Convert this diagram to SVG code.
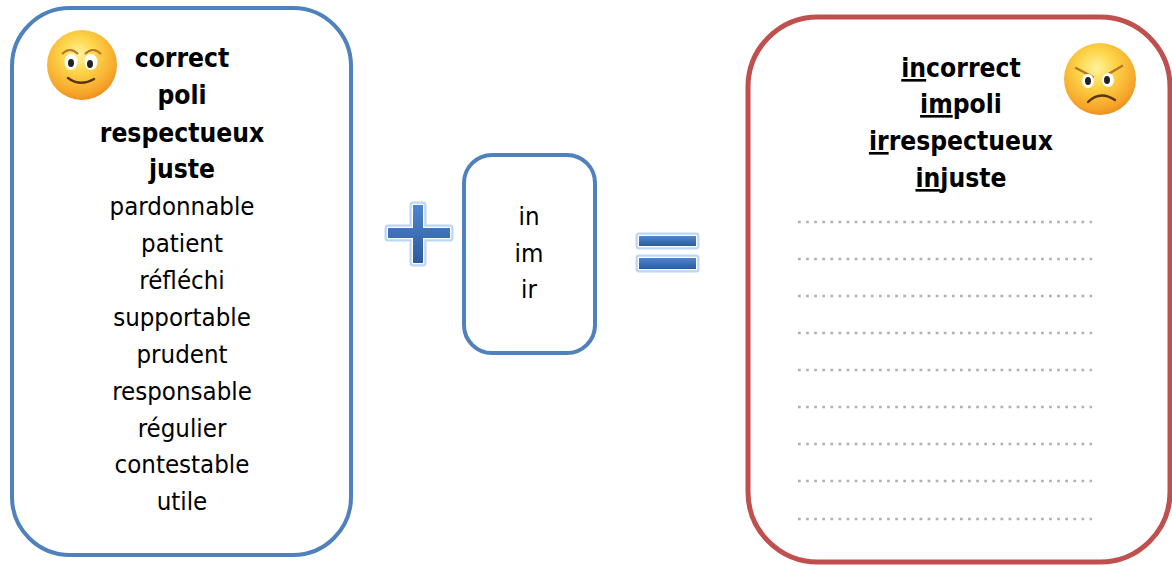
<svg xmlns="http://www.w3.org/2000/svg" width="1172" height="566" viewBox="0 0 1172 566">
<style>
.box{fill:#fff;stroke-width:4}
.blue{stroke:#4f81bd}
.red{stroke:#c0504d;stroke-width:5}
.b{font-family:"DejaVu Sans Condensed","DejaVu Sans",sans-serif;font-weight:bold;font-size:26.2px;text-anchor:middle;fill:#000}
.r{font-family:"DejaVu Sans Condensed","DejaVu Sans",sans-serif;font-size:25.6px;text-anchor:middle;fill:#000}
.u{text-decoration:underline}
.dots{stroke:#b0b0b0;stroke-width:2.6;stroke-dasharray:2.7 5.4;fill:none}
.glow{fill:none;stroke:#bcd6f6;stroke-width:7;stroke-linejoin:round}
.glow2{fill:none;stroke:#fff;stroke-width:2.5;stroke-linejoin:round}
.face{stroke:none}
</style>
<defs>
<radialGradient id="fg" cx="0.45" cy="0.35" r="0.7">
<stop offset="0" stop-color="#fff3a0"/>
<stop offset="0.35" stop-color="#fdd64a"/>
<stop offset="0.8" stop-color="#f6a52a"/>
<stop offset="1" stop-color="#e8841c"/>
</radialGradient>
<linearGradient id="bg" x1="0" y1="0" x2="0" y2="1">
<stop offset="0" stop-color="#4f86cf"/>
<stop offset="1" stop-color="#2c5a9e"/>
</linearGradient>
</defs>

<g id="left">
<rect class="box blue" x="12" y="8" width="339" height="547" rx="58"/>
<g id="happy">
<circle class="face" cx="82" cy="65" r="35" fill="url(#fg)"/>
<path d="M62 54 Q70 46 78 54" fill="none" stroke="#b5742a" stroke-width="2"/>
<path d="M85 54 Q93 46 101 54" fill="none" stroke="#b5742a" stroke-width="2"/>
<ellipse cx="71" cy="62" rx="6.5" ry="8" fill="#fff"/>
<ellipse cx="91" cy="62" rx="6.5" ry="8" fill="#fff"/>
<ellipse cx="71" cy="63" rx="3" ry="4" fill="#222"/>
<ellipse cx="90" cy="64" rx="3" ry="4" fill="#222"/>
<path d="M68 78 Q80 87 94 79" fill="none" stroke="#5a3410" stroke-width="2.4" stroke-linecap="round"/>
</g>
<text class="b" x="182" y="67">correct</text>
<text class="b" x="182" y="104">poli</text>
<text class="b" x="182" y="142">respectueux</text>
<text class="b" x="182" y="178">juste</text>
<text class="r" x="182" y="215">pardonnable</text>
<text class="r" x="182" y="252">patient</text>
<text class="r" x="182" y="289">réfléchi</text>
<text class="r" x="182" y="326">supportable</text>
<text class="r" x="182" y="363">prudent</text>
<text class="r" x="182" y="400">responsable</text>
<text class="r" x="182" y="437">régulier</text>
<text class="r" x="182" y="473">contestable</text>
<text class="r" x="182" y="510">utile</text>
</g>

<g id="plus">
<path class="glow" d="M413 205 H423 V228 H450 V238 H423 V263 H413 V238 H388 V228 H413 Z"/>
<path class="glow2" d="M413 205 H423 V228 H450 V238 H423 V263 H413 V238 H388 V228 H413 Z"/>
<path d="M413 205 H423 V228 H450 V238 H423 V263 H413 V238 H388 V228 H413 Z" fill="url(#bg)"/>
</g>

<g id="middle">
<rect class="box blue" x="464" y="155" width="131" height="198" rx="28"/>
<text class="r" x="529" y="225">in</text>
<text class="r" x="529" y="262">im</text>
<text class="r" x="529" y="298">ir</text>
</g>

<g id="equals">
<rect class="glow" x="639" y="236" width="57" height="10"/>
<rect class="glow" x="639" y="258" width="57" height="11"/>
<rect class="glow2" x="639" y="236" width="57" height="10"/>
<rect class="glow2" x="639" y="258" width="57" height="11"/>
<rect x="639" y="236" width="57" height="10" fill="url(#bg)"/>
<rect x="639" y="258" width="57" height="11" fill="url(#bg)"/>
</g>

<g id="right">
<rect class="box red" x="748" y="17" width="422" height="545" rx="70"/>
<g id="angry">
<circle class="face" cx="1100" cy="79" r="36" fill="url(#fg)"/>
<path d="M1076 68 L1093 77" fill="none" stroke="#b5742a" stroke-width="2.5" stroke-linecap="round"/>
<path d="M1122 66 L1105 76" fill="none" stroke="#b5742a" stroke-width="2.5" stroke-linecap="round"/>
<ellipse cx="1088" cy="81" rx="6" ry="7" fill="#fff"/>
<ellipse cx="1108" cy="80" rx="6" ry="7" fill="#fff"/>
<ellipse cx="1088" cy="81" rx="3" ry="4" fill="#222"/>
<ellipse cx="1107" cy="80" rx="3" ry="4" fill="#222"/>
<path d="M1088 102 Q1100 90 1115 100" fill="none" stroke="#5a3410" stroke-width="2.4" stroke-linecap="round"/>
</g>
<text class="b" x="961" y="77"><tspan class="u">in</tspan>correct</text>
<text class="b" x="961" y="113"><tspan class="u">im</tspan>poli</text>
<text class="b" x="961" y="150"><tspan class="u">ir</tspan>respectueux</text>
<text class="b" x="961" y="187"><tspan class="u">in</tspan>juste</text>
<path class="dots" d="M798 222 H1092 M798 259 H1092 M798 296 H1092 M798 333 H1092 M798 370 H1092 M798 407 H1092 M798 444 H1092 M798 481 H1092 M798 519 H1092"/>
</g>
</svg>
